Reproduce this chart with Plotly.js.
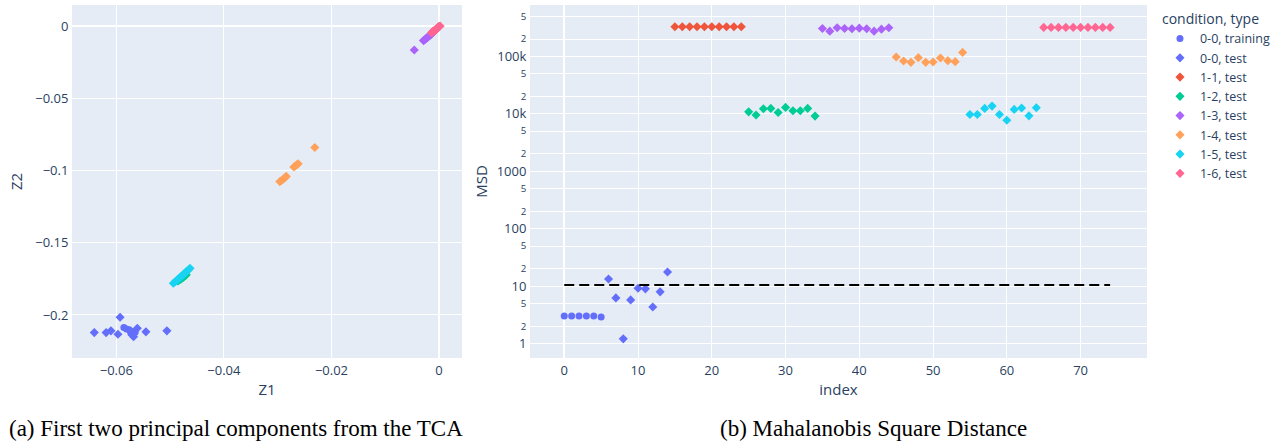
<!DOCTYPE html>
<html>
<head>
<meta charset="utf-8">
<script src="https://cdn.plot.ly/plotly-3.0.1.min.js"></script>
<style>html,body{margin:0;padding:0;background:#fff;}#chart{width:1286px;height:445px;}</style>
</head>
<body>
<div id="chart"></div>
<script>
// ---- Legend / group names ----
const groups = ["0-0, training","0-0, test","1-1, test","1-2, test","1-3, test","1-4, test","1-5, test","1-6, test"];
const colors = ["#636efa","#636efa","#EF553B","#00cc96","#ab63fa","#FFA15A","#19d3f3","#FF6692"];
const symbols = ["circle","diamond","diamond","diamond","diamond","diamond","diamond","diamond"];

// ---- (a) TCA principal components ----
const z1_train = [-0.0586,-0.0581,-0.0576,-0.0573,-0.0571,-0.0565];
const z2_train = [-0.2087,-0.2097,-0.2103,-0.2127,-0.2115,-0.2120];
const z1_test00 = [-0.0641,-0.0619,-0.0610,-0.0597,-0.0593,-0.0568,-0.0561,-0.0545,-0.0506];
const z2_test00 = [-0.2122,-0.2122,-0.2110,-0.2133,-0.2016,-0.2150,-0.2092,-0.2117,-0.2110];
const z1_11 = [-0.0012,-0.0010,-0.0009,-0.0007,-0.0006,-0.0005,-0.0004,-0.0002,-0.0001,0.0000];
const z2_11 = [-0.0040,-0.0035,-0.0031,-0.0027,-0.0022,-0.0018,-0.0014,-0.0009,-0.0005,-0.0001];
const z1_12 = [-0.0486,-0.0484,-0.0482,-0.0480,-0.0478,-0.0477,-0.0476,-0.0474,-0.0472,-0.0470];
const z2_12 = [-0.1765,-0.1760,-0.1755,-0.1750,-0.1745,-0.1742,-0.1738,-0.1733,-0.1728,-0.1722];
const z1_13 = [-0.0046,-0.0029,-0.0027,-0.0025,-0.0023,-0.0022,-0.0020,-0.0018,-0.0016,-0.0014];
const z2_13 = [-0.0164,-0.0099,-0.0094,-0.0088,-0.0082,-0.0078,-0.0072,-0.0066,-0.0060,-0.0054];
const z1_14 = [-0.0296,-0.0293,-0.0290,-0.0287,-0.0284,-0.0270,-0.0267,-0.0264,-0.0262,-0.0231];
const z2_14 = [-0.1076,-0.1068,-0.1060,-0.1050,-0.1040,-0.0975,-0.0968,-0.0958,-0.0952,-0.0840];
const z1_15 = [-0.0494,-0.0490,-0.0487,-0.0483,-0.0480,-0.0476,-0.0473,-0.0470,-0.0466,-0.0463];
const z2_15 = [-0.1780,-0.1768,-0.1757,-0.1745,-0.1734,-0.1722,-0.1711,-0.1699,-0.1688,-0.1676];
const z1_16 = [-0.0014,-0.0012,-0.0010,-0.0008,-0.0007,-0.0005,-0.0003,-0.0002,0.0000,0.0002];
const z2_16 = [-0.0044,-0.0039,-0.0034,-0.0029,-0.0024,-0.0019,-0.0014,-0.0009,-0.0004,0.0002];

// ---- (b) Mahalanobis Square Distance ----
const idx_train = [0,1,2,3,4,5];
const msd_train = [3.02,3.02,3.02,3.02,3.02,2.90];
const idx_test00 = [6,7,8,9,10,11,12,13,14];
const msd_test00 = [13.3,6.25,1.21,5.77,9.2,8.98,4.35,7.96,17.6];
const idx_11 = [15,16,17,18,19,20,21,22,23,24];
const msd_11 = [326000,326000,326000,326000,326000,326000,326000,326000,326000,326000];
const idx_12 = [25,26,27,28,29,30,31,32,33,34];
const msd_12 = [10800,9500,12200,12400,10500,12900,11300,11300,12400,9100];
const idx_13 = [35,36,37,38,39,40,41,42,43,44];
const msd_13 = [305000,274000,313000,305000,301000,309000,301000,274000,297000,313000];
const idx_14 = [45,46,47,48,49,50,51,52,53,54];
const msd_14 = [97300,82800,78500,94800,78500,79600,93500,84000,80700,117000];
const idx_15 = [55,56,57,58,59,60,61,62,63,64];
const msd_15 = [9700,9700,12400,13600,9700,7700,11900,12600,9200,12700];
const idx_16 = [65,66,67,68,69,70,71,72,73,74];
const msd_16 = [318000,318000,318000,318000,318000,318000,318000,318000,318000,318000];
const thr_x = [0,74];
const thr_y = [10.5,10.5];

const zX = [z1_train,z1_test00,z1_11,z1_12,z1_13,z1_14,z1_15,z1_16];
const zY = [z2_train,z2_test00,z2_11,z2_12,z2_13,z2_14,z2_15,z2_16];
const mX = [idx_train,idx_test00,idx_11,idx_12,idx_13,idx_14,idx_15,idx_16];
const mY = [msd_train,msd_test00,msd_11,msd_12,msd_13,msd_14,msd_15,msd_16];

const traces = [];
for (let i = 0; i < groups.length; i++) {
  traces.push({
    type: "scatter", mode: "markers", x: zX[i], y: zY[i],
    xaxis: "x", yaxis: "y", name: groups[i], showlegend: false, legendgroup: groups[i],
    marker: {color: colors[i], symbol: symbols[i], size: 7}
  });
}
for (let i = 0; i < groups.length; i++) {
  traces.push({
    type: "scatter", mode: "markers", x: mX[i], y: mY[i],
    xaxis: "x2", yaxis: "y2", name: groups[i], showlegend: true, legendgroup: groups[i],
    marker: {color: colors[i], symbol: symbols[i], size: 7}
  });
}
traces.push({
  type: "scatter", mode: "lines", x: thr_x, y: thr_y, xaxis: "x2", yaxis: "y2",
  showlegend: false, line: {color: "black", width: 2, dash: "10px,5px"}
});

const axisCommon = {
  gridcolor: "white", zerolinecolor: "white", zerolinewidth: 2,
  tickfont: {size: 13, color: "#2a3f5f"}, ticks: "", linecolor: "white"
};
const layout = {
  width: 1286, height: 445,
  margin: {l: 0, r: 0, t: 0, b: 0},
  paper_bgcolor: "white", plot_bgcolor: "#E5ECF6",
  font: {family: "Open Sans, Verdana, Arial, sans-serif", color: "#2a3f5f", size: 13},
  xaxis: Object.assign({}, axisCommon, {
    domain: [0.056, 0.3593], range: [-0.06824, 0.00428], anchor: "y",
    tickvals: [-0.06,-0.04,-0.02,0], ticktext: ["−0.06","−0.04","−0.02","0"],
    title: {text: "Z1", font: {size: 15}, standoff: 6}
  }),
  yaxis: Object.assign({}, axisCommon, {
    domain: [0.1955, 0.9888], range: [-0.2298, 0.01476], anchor: "x",
    tickvals: [0,-0.05,-0.1,-0.15,-0.2], ticktext: ["0","−0.05","−0.1","−0.15","−0.2"],
    title: {text: "Z2", font: {size: 15}, standoff: 9}
  }),
  xaxis2: Object.assign({}, axisCommon, {
    domain: [0.4121, 0.8919], range: [-4.65, 79], anchor: "y2", dtick: 10,
    title: {text: "index", font: {size: 15}, standoff: 6}
  }),
  yaxis2: Object.assign({}, axisCommon, {
    domain: [0.1955, 0.9888], type: "log", range: [-0.25, 5.893], anchor: "x2", dtick: "D2",
    title: {text: "MSD", font: {size: 15}, standoff: 5}
  }),
  legend: {
    x: 0.902, y: 0.987, xanchor: "left", yanchor: "top",
    title: {text: "condition, type", font: {size: 14}},
    font: {size: 12.5}, bgcolor: "rgba(0,0,0,0)", tracegroupgap: 0
  },
  annotations: [
    {text: "(a) First two principal components from the TCA", xref: "paper", yref: "paper",
     x: 236/1286, y: 1 - 428/445, xanchor: "center", yanchor: "middle", showarrow: false,
     font: {family: "Liberation Serif, Times New Roman, serif", size: 23, color: "black"}},
    {text: "(b) Mahalanobis Square Distance", xref: "paper", yref: "paper",
     x: 873.5/1286, y: 1 - 428/445, xanchor: "center", yanchor: "middle", showarrow: false,
     font: {family: "Liberation Serif, Times New Roman, serif", size: 23, color: "black"}}
  ]
};
Plotly.newPlot("chart", traces, layout, {displayModeBar: false, staticPlot: true});
</script>
</body>
</html>
